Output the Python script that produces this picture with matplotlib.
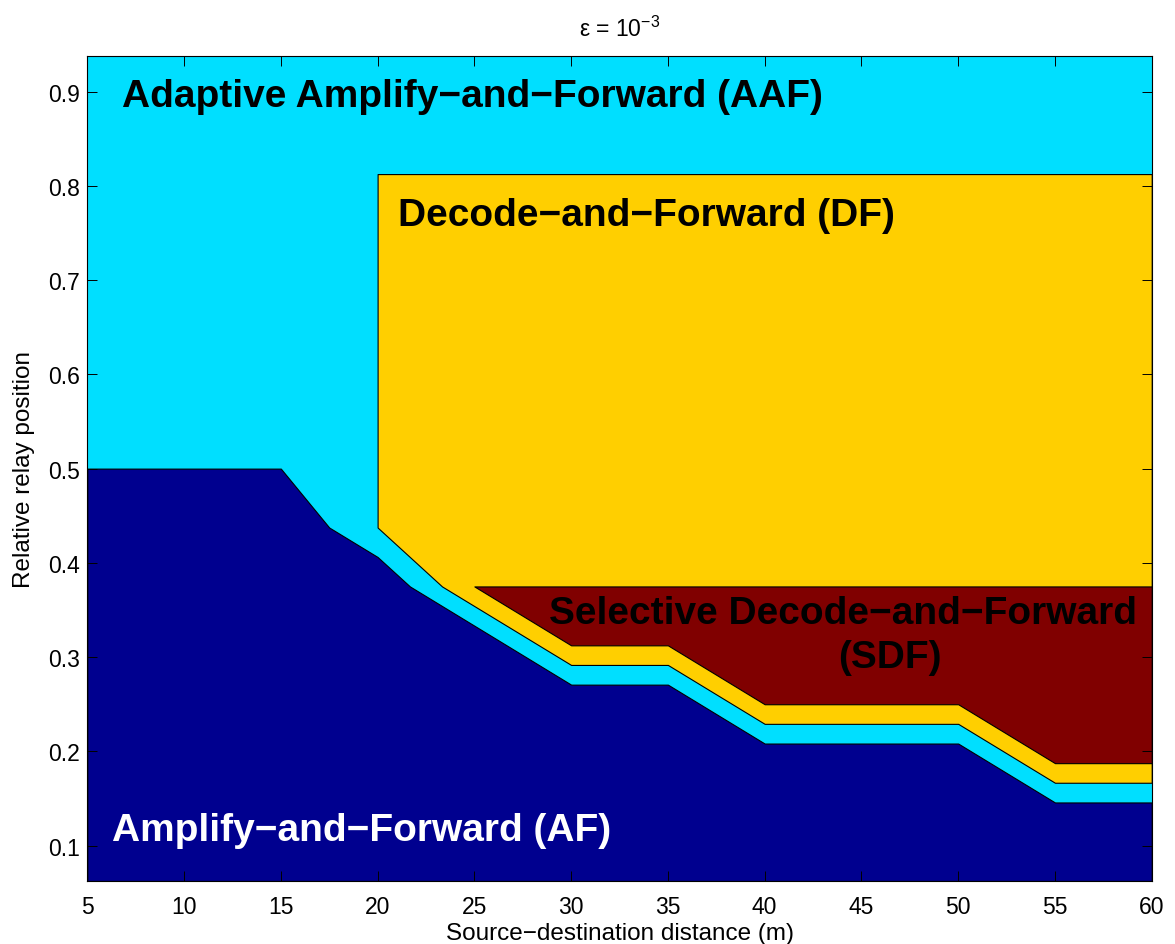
import numpy as np
import matplotlib
matplotlib.use("Agg")
import matplotlib.pyplot as plt

plt.rcParams['font.family'] = ['Liberation Sans', 'DejaVu Sans']
plt.rcParams['mathtext.fontset'] = 'custom'
plt.rcParams['mathtext.rm'] = 'Liberation Sans'
plt.rcParams['mathtext.it'] = 'Liberation Sans:italic'
plt.rcParams['mathtext.bf'] = 'Liberation Sans:bold'

# region boundaries (source-destination distance vs relative relay position)
af_x = [5, 15, 17.5, 20, 21.67, 30, 35, 40, 50, 55, 60]
af_top = [0.5, 0.5, 0.4375, 0.40625, 0.375, 0.2708, 0.2708, 0.2083, 0.2083, 0.1458, 0.1458]

df_x = [20, 23.33, 30, 35, 40, 50, 55, 60]
df_bottom = [0.4375, 0.375, 0.2917, 0.2917, 0.2292, 0.2292, 0.1667, 0.1667]
df_top = 0.8125

sdf_x = [25, 30, 35, 40, 50, 55, 60]
sdf_bottom = [0.375, 0.3125, 0.3125, 0.25, 0.25, 0.1875, 0.1875]
sdf_top = 0.375

y_min, y_max = 0.0625, 0.9375
x_ticks = [5, 10, 15, 20, 25, 30, 35, 40, 45, 50, 55, 60]
y_ticks = [0.1, 0.2, 0.3, 0.4, 0.5, 0.6, 0.7, 0.8, 0.9]

# jet colours as used by matlab
c_af = '#00008F'
c_aaf = '#00DFFF'
c_df = '#FFCF00'
c_sdf = '#800000'

fig = plt.figure(figsize=(11.75, 9.45), dpi=100)
ax = fig.add_axes([0.0743, 0.0667, 0.9059, 0.8727])
ax.set_facecolor(c_aaf)

ax.fill_between(af_x, y_min, af_top, facecolor=c_af, edgecolor='k', linewidth=0.8)
ax.fill_between(df_x, df_bottom, df_top, facecolor=c_df, edgecolor='k', linewidth=0.8)
ax.fill_between(sdf_x, sdf_bottom, sdf_top, facecolor=c_sdf, edgecolor='k', linewidth=0.8)

ax.set_xlim(5, 60)
ax.set_ylim(y_min, y_max)
ax.set_xticks(x_ticks)
ax.set_yticks(y_ticks)
ax.tick_params(direction='in', length=7, width=0.7, top=True, right=True,
               labelsize=16.5)
ax.tick_params(axis='x', pad=10)
ax.tick_params(axis='y', pad=5)
for s in ax.spines.values():
    s.set_linewidth(0.8)

ax.text(6.79, 0.885, 'Adaptive Amplify\u2212and\u2212Forward (AAF)', fontsize=28,
        fontweight='bold', color='k')
ax.text(21.06, 0.758, 'Decode\u2212and\u2212Forward (DF)', fontsize=28,
        fontweight='bold', color='k')
ax.text(44.05, 0.336, 'Selective Decode\u2212and\u2212Forward', fontsize=28,
        fontweight='bold', color='k', ha='center')
ax.text(46.48, 0.290, '(SDF)', fontsize=28, fontweight='bold', color='k', ha='center')
ax.text(6.28, 0.106, 'Amplify\u2212and\u2212Forward (AF)', fontsize=28,
        fontweight='bold', color='white')

ax.set_title('\u03b5 = 10$^{\u22123}$', fontsize=16.5, pad=15)
ax.set_xlabel('Source\u2212destination distance (m)', fontsize=17.5, labelpad=3)
ax.set_ylabel('Relative relay position', fontsize=17.5, labelpad=10)

fig.savefig('out.png', dpi=100)
